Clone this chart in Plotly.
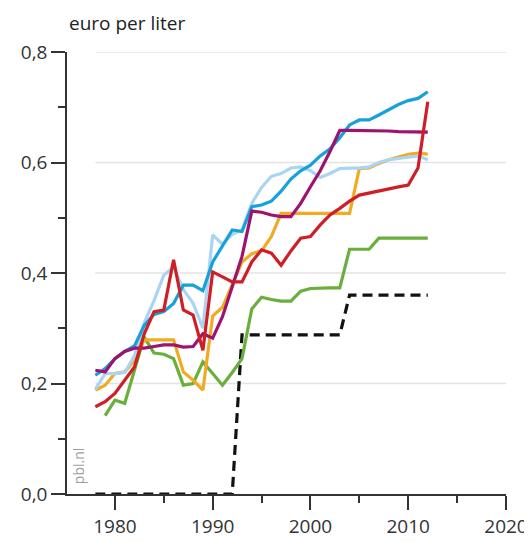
import plotly.graph_objects as go

years = list(range(1978, 2013))

blue = [0.215, 0.227, 0.245, 0.258, 0.268, 0.305, 0.325, 0.33, 0.345, 0.378,
        0.378, 0.368, 0.42, 0.448, 0.478, 0.475, 0.52, 0.523, 0.53, 0.548,
        0.57, 0.585, 0.595, 0.612, 0.625, 0.645, 0.668, 0.677, 0.677, 0.686,
        0.695, 0.705, 0.712, 0.716, 0.728]
light_blue = [0.19, 0.218, 0.218, 0.22, 0.25, 0.31, 0.35, 0.396, 0.411, 0.37,
              0.345, 0.30, 0.469, 0.452, 0.47, 0.478, 0.526, 0.555, 0.575, 0.58,
              0.59, 0.592, 0.585, 0.573, 0.58, 0.589, 0.59, 0.59, 0.592, 0.60,
              0.605, 0.607, 0.61, 0.612, 0.605]
purple = [0.224, 0.221, 0.245, 0.258, 0.264, 0.264, 0.267, 0.27, 0.27, 0.266,
          0.267, 0.29, 0.282, 0.321, 0.375, 0.43, 0.512, 0.51, 0.505, 0.502,
          0.502, 0.526, 0.556, 0.585, 0.62, 0.658, 0.658, 0.658, 0.658, 0.657,
          0.657, 0.656, 0.656, 0.656, 0.655]
red = [0.158, 0.167, 0.182, 0.206, 0.23, 0.29, 0.33, 0.333, 0.424, 0.333,
       0.324, 0.26, 0.402, 0.393, 0.384, 0.384, 0.42, 0.442, 0.436, 0.414,
       0.44, 0.463, 0.466, 0.487, 0.505, 0.517, 0.53, 0.541, 0.545, 0.548,
       0.552, 0.556, 0.559, 0.59, 0.71]
orange = [0.188, 0.197, 0.218, 0.221, 0.242, 0.279, 0.279, 0.279, 0.279, 0.221,
          0.206, 0.188, 0.322, 0.338, 0.38, 0.42, 0.435, 0.44, 0.466, 0.508,
          0.508, 0.508, 0.508, 0.508, 0.508, 0.508, 0.508, 0.589, 0.59, 0.598,
          0.605, 0.61, 0.615, 0.617, 0.615]
green_years = list(range(1979, 2013))
green = [0.142, 0.170, 0.164, 0.225, 0.284, 0.255, 0.253, 0.245, 0.197, 0.200,
         0.239, 0.218, 0.197, 0.22, 0.245, 0.335, 0.356, 0.352, 0.349, 0.349,
         0.367, 0.372, 0.373, 0.373, 0.373, 0.443, 0.443, 0.443, 0.463, 0.463,
         0.463, 0.463, 0.463, 0.463]
black = [0, 0, 0, 0, 0, 0, 0, 0, 0, 0, 0, 0, 0, 0, 0, 0.288, 0.288, 0.288,
         0.288, 0.288, 0.288, 0.288, 0.288, 0.288, 0.288, 0.288, 0.36, 0.36,
         0.36, 0.36, 0.36, 0.36, 0.36, 0.36, 0.36]

y_ticks = [0.0, 0.2, 0.4, 0.6, 0.8]
x_ticks = [1980, 1990, 2000, 2010, 2020]

fig = go.Figure()

def add(x, y, color, dash=None):
    fig.add_trace(go.Scatter(
        x=x, y=y, mode="lines",
        line=dict(color=color, width=3.2, dash=dash),
        showlegend=False, hoverinfo="skip"))

add(years, black, "#111111", dash="10px,6px")
add(green_years, green, "#6AAE3C")
add(years, orange, "#F2AA22")
add(years, light_blue, "#A9D5F3")
add(years, blue, "#17A1DA")
add(years, purple, "#9C1470")
add(years, red, "#CE1E26")

for v in y_ticks[1:]:
    fig.add_shape(type="line", xref="x", yref="y", x0=1978, x1=2020, y0=v, y1=v,
                  line=dict(color="#E3E3E3", width=1.5), layer="below")

axis_common = dict(
    showgrid=False, zeroline=False, showline=True, linecolor="#333333",
    linewidth=1.5, ticks="outside", tickcolor="#333333", tickwidth=1.5,
    ticklen=14, automargin=False,
    tickfont=dict(family="Open Sans", size=19, color="#333333"),
)

fig.update_xaxes(range=[1975.1, 2020], tickvals=x_ticks,
                 minor=dict(dtick=5, tick0=1975, ticklen=7, ticks="outside",
                            tickcolor="#333333", tickwidth=1.5, showgrid=False),
                 **axis_common)
fig.update_yaxes(range=[0, 0.8], tickvals=y_ticks, tickformat=".1f",
                 minor=dict(dtick=0.1, tick0=0, ticklen=7, ticks="outside",
                            tickcolor="#333333", tickwidth=1.5, showgrid=False),
                 **axis_common)

fig.add_annotation(text="euro per liter", xref="paper", yref="paper",
                   x=0.0, y=1.065, xanchor="left", yanchor="middle",
                   showarrow=False,
                   font=dict(family="Open Sans", size=19, color="#222222"))
fig.add_annotation(text="pbl.nl", xref="paper", yref="paper",
                   x=0.025, y=0.063, xanchor="center", yanchor="middle",
                   textangle=-90, showarrow=False,
                   font=dict(family="Open Sans", size=14, color="#A0A0A0"))

fig.update_layout(
    width=524, height=534,
    margin=dict(l=59, r=26, t=44, b=48),
    paper_bgcolor="white", plot_bgcolor="white",
    separators=",.",
    showlegend=False,
)

fig.write_html("out.html")
